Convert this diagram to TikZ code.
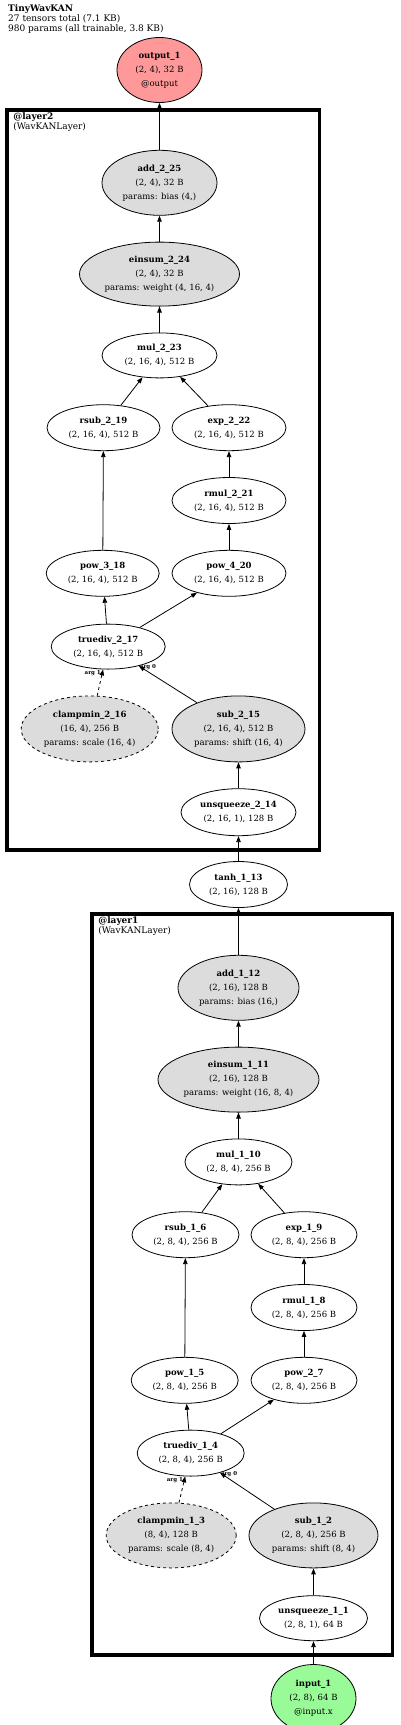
\documentclass[tikz,border=0pt]{standalone}
\usepackage{fontspec}
\setmainfont{DejaVu Serif}
\usetikzlibrary{positioning,arrows.meta,shapes.geometric,fit}
\definecolor{parmgray}{RGB}{220,220,220}
\definecolor{outred}{RGB}{255,153,153}
\definecolor{ingreen}{RGB}{152,251,152}

\begin{document}
\begin{tikzpicture}[x=1pt,y=1pt,font=\fontsize{8.5}{14}\selectfont,node distance=26pt and 12pt]
  \tikzset{
    op/.style={ellipse,draw,line width=.8pt,fill=white,inner sep=0pt,align=center,minimum height=46},
    parm/.style={op,fill=parmgray,minimum height=65},
    module/.style={draw,line width=3.5pt,inner sep=14pt},
    modlbl/.style={anchor=north west,align=left,inner sep=0pt,xshift=8pt,yshift=-4pt,font=\fontsize{9}{10.5}\selectfont},
    arglbl/.style={font=\fontsize{5.5}{6}\selectfont\bfseries,inner sep=1pt},
    >={Triangle[length=6pt,width=4.5pt]}
  }
  \useasboundingbox (0,0) rectangle (400,-1725);
  \node[anchor=north west,align=left,inner sep=0pt,font=\fontsize{9}{10}\selectfont] (title) at (8,-4)
     {\textbf{TinyWavKAN}\\27 tensors total (7.1 KB)\\980 params (all trainable, 3.8 KB)};
  \node[op,fill=outred,minimum width=85,minimum height=65] (out) at (159.5,-70)
     {\textbf{output\_1}\\(2, 4), 32 B\\@output};
  % layer2
  \node[parm,below=47pt of out,minimum width=115] (add2) {\textbf{add\_2\_25}\\(2, 4), 32 B\\params: bias (4,)};
  \node[parm,below=of add2,minimum width=160,minimum height=64] (einsum2) {\textbf{einsum\_2\_24}\\(2, 4), 32 B\\params: weight (4, 16, 4)};
  \node[op,below=of einsum2,minimum width=115,minimum height=45] (mul2) {\textbf{mul\_2\_23}\\(2, 16, 4), 512 B};
  \node[op,below=of mul2,xshift=-56pt,minimum width=113] (rsub2) {\textbf{rsub\_2\_19}\\(2, 16, 4), 512 B};
  \node[op,below=of mul2,xshift=69.5pt,minimum width=114] (exp2) {\textbf{exp\_2\_22}\\(2, 16, 4), 512 B};
  \node[op,below=of exp2,minimum width=114] (rmul2) {\textbf{rmul\_2\_21}\\(2, 16, 4), 512 B};
  \node[op,below=of rmul2,minimum width=114] (pow4) {\textbf{pow\_4\_20}\\(2, 16, 4), 512 B};
  \node[op,left=of pow4,minimum width=113] (pow3) {\textbf{pow\_3\_18}\\(2, 16, 4), 512 B};
  \node[op,below=27pt of pow3,xshift=5.5pt,minimum width=114,minimum height=45] (div2) {\textbf{truediv\_2\_17}\\(2, 16, 4), 512 B};
  \node[parm,dashed,below=of div2,xshift=-18.5pt,minimum width=137,minimum height=66] (clamp2) {\textbf{clampmin\_2\_16}\\(16, 4), 256 B\\params: scale (16, 4)};
  \node[parm,right=13pt of clamp2,minimum width=133,minimum height=66] (sub2) {\textbf{sub\_2\_15}\\(2, 16, 4), 512 B\\params: shift (16, 4)};
  \node[op,below=of sub2,minimum width=115,minimum height=47] (unsq2) {\textbf{unsqueeze\_2\_14}\\(2, 16, 1), 128 B};
  \node[op,below=25pt of unsq2,minimum width=98] (tanh) {\textbf{tanh\_1\_13}\\(2, 16), 128 B};
  % layer1
  \node[parm,below=47pt of tanh,minimum width=121] (add1) {\textbf{add\_1\_12}\\(2, 16), 128 B\\params: bias (16,)};
  \node[parm,below=of add1,minimum width=161] (einsum1) {\textbf{einsum\_1\_11}\\(2, 16), 128 B\\params: weight (16, 8, 4)};
  \node[op,below=of einsum1,minimum width=107] (mul1) {\textbf{mul\_1\_10}\\(2, 8, 4), 256 B};
  \node[op,below=of mul1,xshift=-53pt,minimum width=107] (rsub1) {\textbf{rsub\_1\_6}\\(2, 8, 4), 256 B};
  \node[op,below=of mul1,xshift=65.5pt,minimum width=106] (exp1) {\textbf{exp\_1\_9}\\(2, 8, 4), 256 B};
  \node[op,below=of exp1,minimum width=106] (rmul1) {\textbf{rmul\_1\_8}\\(2, 8, 4), 256 B};
  \node[op,below=of rmul1,minimum width=106] (pow2) {\textbf{pow\_2\_7}\\(2, 8, 4), 256 B};
  \node[op,left=of pow2,minimum width=107] (pow1) {\textbf{pow\_1\_5}\\(2, 8, 4), 256 B};
  \node[op,below=of pow1,xshift=6pt,minimum width=107] (div1) {\textbf{truediv\_1\_4}\\(2, 8, 4), 256 B};
  \node[parm,dashed,below=of div1,xshift=-19.5pt,minimum width=130] (clamp1) {\textbf{clampmin\_1\_3}\\(8, 4), 128 B\\params: scale (8, 4)};
  \node[parm,right=of clamp1,minimum width=129] (sub1) {\textbf{sub\_1\_2}\\(2, 8, 4), 256 B\\params: shift (8, 4)};
  \node[op,below=27pt of sub1,minimum width=108,minimum height=45] (unsq1) {\textbf{unsqueeze\_1\_1}\\(2, 8, 1), 64 B};
  \node[op,fill=ingreen,below=23pt of unsq1,minimum width=85,minimum height=68] (inp) {\textbf{input\_1}\\(2, 8), 64 B\\@input.x};
  % module boxes
  \coordinate[above=26pt of add2] (l2top);
  \coordinate[above=27pt of add1] (l1top);
  \node[module,fit=(l2top)(clamp2)(sub2)(unsq2),
    label={[modlbl]north west:{\textbf{@layer2}\\(WavKANLayer)}}] (layer2) {};
  \node[module,fit=(l1top)(clamp1)(sub1)(unsq1),
    label={[modlbl]north west:{\textbf{@layer1}\\(WavKANLayer)}}] (layer1) {};
  % edges
  \begin{scope}[line width=.8pt]
  \draw[->] (inp) -- (unsq1);
  \draw[->] (unsq1) -- (sub1);
  \draw[->] (sub1) -- node[arglbl,pos=.97,anchor=west,xshift=-2pt]{arg 0} (div1);
  \draw[->,dashed] (clamp1) -- node[arglbl,pos=.85,anchor=east]{arg 1} (div1);
  \draw[->] (div1) -- (pow1);
  \draw[->] (div1) -- (pow2);
  \draw[->] (pow1) -- (rsub1);
  \draw[->] (pow2) -- (rmul1);
  \draw[->] (rmul1) -- (exp1);
  \draw[->] (rsub1) -- (mul1);
  \draw[->] (exp1) -- (mul1);
  \draw[->] (mul1) -- (einsum1);
  \draw[->] (einsum1) -- (add1);
  \draw[->] (add1) -- (tanh);
  \draw[->] (tanh) -- (unsq2);
  \draw[->] (unsq2) -- (sub2);
  \draw[->] (sub2) -- node[arglbl,pos=.97,anchor=west,xshift=-2pt]{arg 0} (div2);
  \draw[->,dashed] (clamp2) -- node[arglbl,pos=.85,anchor=east]{arg 1} (div2);
  \draw[->] (div2) -- (pow3);
  \draw[->] (div2) -- (pow4);
  \draw[->] (pow3) -- (rsub2);
  \draw[->] (pow4) -- (rmul2);
  \draw[->] (rmul2) -- (exp2);
  \draw[->] (rsub2) -- (mul2);
  \draw[->] (exp2) -- (mul2);
  \draw[->] (mul2) -- (einsum2);
  \draw[->] (einsum2) -- (add2);
  \draw[->] (add2) -- (out);
  \end{scope}
\end{tikzpicture}
\end{document}
